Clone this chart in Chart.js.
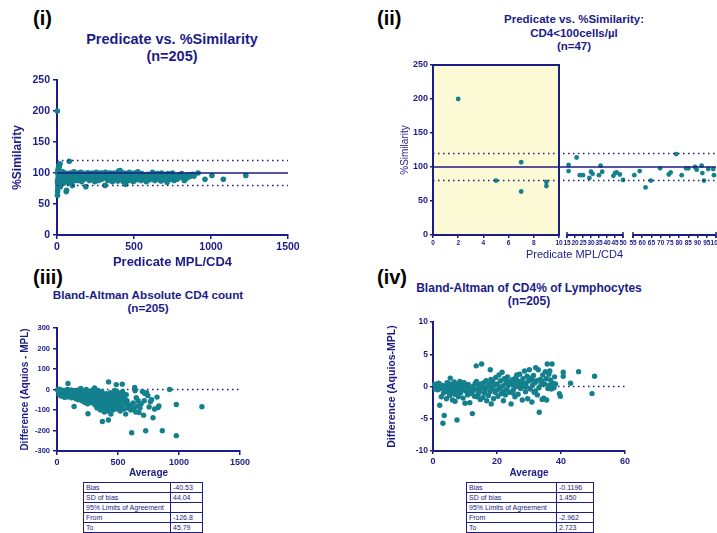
<!DOCTYPE html>
<html><head><meta charset="utf-8">
<script src="https://cdn.jsdelivr.net/npm/chart.js@4/dist/chart.umd.min.js"></script>
<style>
html,body{margin:0;padding:0;background:#fff;}
body{width:717px;height:533px;overflow:hidden;position:relative;font-family:'Liberation Sans',Arial,sans-serif;}
canvas{position:absolute;}
.lbl{position:absolute;font-weight:bold;color:#000;font-size:20px;line-height:20px;white-space:nowrap;}
.ttl{position:absolute;text-align:center;font-weight:bold;color:#1c1c86;white-space:nowrap;width:320px;}
table.st{position:absolute;border-collapse:collapse;font-size:7px;color:#1c1c86;border:1.5px solid #1c1c86;table-layout:fixed;}
table.st td{border:1px solid #1c1c86;height:9px;padding:0 0 0 2px;line-height:9px;white-space:nowrap;overflow:hidden;}
</style></head><body>

<div class="lbl" style="left:33px;top:8px">(i)</div>
<div class="lbl" style="left:377px;top:8px">(ii)</div>
<div class="lbl" style="left:33px;top:267px">(iii)</div>
<div class="lbl" style="left:377px;top:267px">(iv)</div>

<div class="ttl" style="left:12px;top:31px;font-size:14.5px;line-height:17px">Predicate vs. %Similarity<br>(n=205)</div>
<div class="ttl" style="left:414px;top:13px;font-size:11.5px;line-height:13.5px">Predicate vs. %Similarity:<br>CD4&lt;100cells/µl<br>(n=47)</div>
<div class="ttl" style="left:-12px;top:288px;font-size:11.7px;line-height:13px">Bland-Altman Absolute CD4 count<br>(n=205)</div>
<div class="ttl" style="left:369px;top:282px;font-size:12px;line-height:13px">Bland-Altman of CD4% of Lymphocytes<br>(n=205)</div>

<canvas id="c1" width="310" height="200" style="left:0;top:70px"></canvas>
<canvas id="c2" width="347" height="210" style="left:390px;top:55px"></canvas>
<canvas id="c3" width="260" height="165" style="left:0;top:315px"></canvas>
<canvas id="c4" width="265" height="170" style="left:380px;top:310px"></canvas>

<table class="st" id="t3" style="left:83px;top:482px;width:119px"></table>
<table class="st" id="t4" style="left:466px;top:482px;width:127px"></table>

<script>
// ---------------- DATA ----------------
// (i) Predicate MPL/CD4 vs %Similarity, all samples
const allSimilarity = [
[2,200],[3,64],[4,70],[5,75],[6,80],[3,85],[5,90],[8,95],[4,100],[6,104],[9,108],[12,112],[20,115],[15,110],[10,98],[12,92],[15,88],[18,82],[22,78],[25,86],[28,94],[30,100],[35,96],[40,90],[45,84],[50,92],[55,98],[60,70],[62,72],[70,88],[75,95],[80,119],[85,100],[90,92],[95,86],[100,80],
[105,96],[110,102],[115,90],[120,94],[125,98],[130,88],[140,100],[145,92],[150,96],[160,86],[165,100],[170,94],[175,90],[180,98],[187,78],[190,95],[200,92],[205,100],[210,88],[220,96],[225,90],[230,100],[240,94],[245,86],[250,98],[260,92],[265,96],[270,88],[280,100],[285,94],[290,90],[300,97],[305,92],[312,80],[315,101],[320,95],[330,88],[335,99],[340,93],[350,90],[355,97],[360,86],[370,100],[375,94],[380,90],[385,98],[390,92],[395,87],[400,103],[405,96],[410,104],[415,90],[420,98],[425,93],[430,86],[435,100],[440,95],[446,82],[450,99],[455,91],[460,97],[465,88],[470,101],[475,94],[480,90],[485,98],[490,92],[495,86],[500,96],[505,100],[510,93],[515,89],[520,97],[525,102],[530,91],[540,95],[545,88],[550,99],[555,94],[560,90],[570,97],[575,92],[580,86],[590,98],[595,93],[600,89],[610,96],[615,91],[620,101],[630,94],[635,88],[640,97],[650,92],[655,99],[660,90],[670,95],[675,87],[680,100],[690,93],[695,89],[700,97],[710,92],[715,85],[720,99],[730,94],[735,90],[740,96],[750,100],[755,92],[760,88],[770,95],[780,90],[790,97],[800,93],[810,99],[820,92],[827,88],[830,95],[840,91],[850,97],[860,94],[870,96],[880,98],[890,95],[916,100],[961,90],[1006,96],[1080,90],[1226,96],
[8,82],[10,105],[14,96],[16,100],[24,92],[32,88],[38,102],[42,96],[48,100],[52,86],[58,94],[65,99],[68,92],[78,84],[88,97],[98,100],[108,88],[118,100],[128,92],[135,96],[155,101],[185,92],[195,100],[215,97],[235,91],[255,101],[275,93],[295,100],[325,92],[345,100],[365,94],[400,92],[430,96],[460,93],[490,99],[520,91],[550,96],[590,91],[630,99],[660,96],[700,91]
];
const similarityRefLines = [100, 80, 120]; // bias line, lower and upper limits
const simXTicks = [0, 500, 1000, 1500];
const simYTicks = [0, 50, 100, 150, 200, 250];

// (ii) CD4 < 100 cells/µl subset
const lowCD4Similarity = [
[2,200],[5,80],[7,107],[7,64],[9,78],[9,72],
[16,103],[16,94],[21,114],[23,88],[25,88],[29,84],[30,93],[31,90],[35,88],[36,102],[37,93],[44,87],[45,91],[46,92],[48,89],[50,81],
[55.7,88],[58.6,94],[61.8,70],[64.7,80],[69.7,98],[74.4,89],[75.4,92],[78.4,119],[81.4,88],[83.8,98],[85,98],[88.6,100],[89.5,96],[92.2,102],[92.6,91],[93.5,80],[95.8,97],[98.5,97],[98.9,88]
];
const lowCD4Segments = [[0,10],[15,50],[55,100]];
const lowCD4Highlight = [0, 10];
const lowCD4XTicks = [0,2,4,6,8,10,15,20,25,30,35,40,45,50,55,60,65,70,75,80,85,90,95,100];
const lowCD4YTicks = [0, 50, 100, 150, 200, 250];

// (iii) Bland-Altman absolute CD4 count
const baAbsolute = [
[10,2],[15,-3],[20,0],[25,-8],[30,-2],[35,-15],[40,-5],[45,-20],[50,-10],[55,-30],[60,-38],[65,-18],[70,-5],[75,-25],[80,-12],[85,0],[90,29],[95,-35],[100,-22],
[105,-8],[110,-30],[115,-2],[120,-40],[125,-15],[130,-25],[135,-5],[140,-83],[145,-35],[150,-18],[155,-45],[160,-10],[165,-28],[170,-3],[175,-50],[180,-20],[185,-38],[190,-12],[195,5],[200,-30],
[205,-55],[210,-25],[215,-40],[220,-8],[225,-62],[230,-18],[235,-35],[240,0],[245,-48],[250,-70],[254,-118],[258,-30],[262,-10],[266,-55],[270,-40],[275,-22],[280,-65],[285,-5],[290,-45],[295,-30],[300,-58],
[305,-15],[308,8],[312,-75],[316,-40],[320,-60],[324,-25],[328,-90],[332,-50],[336,-5],[340,-35],[344,-80],[348,-65],[352,-20],[356,-100],[360,-45],[364,-70],[368,-10],[372,-156],[376,-55],[380,-85],[384,-30],[388,-110],[392,-60],[396,-40],[400,-95],
[404,-20],[408,-75],[412,-50],[416,-105],[421,-149],[423,37],[426,-65],[430,-35],[434,-90],[438,-15],[442,-120],[446,-55],[450,-80],[454,-40],[458,-100],[462,-25],[466,-60],[470,-85],[474,-5],[478,-45],[482,-70],[486,24],[490,-95],[494,-30],[498,-55],
[502,-15],[506,-80],[510,-40],[514,-65],[518,-105],[522,-20],[526,-50],[530,-85],[535,26],[538,-10],[542,-60],[546,-30],[550,-95],[555,-45],[560,-70],[563,-120],[568,-25],[575,-55],[585,-90],[595,-75],
[605,-100],[612,-211],[618,-85],[625,-65],[632,-95],[637,10],[640,-6],[645,-110],[650,-40],[660,-80],[665,-55],[672,-112],[680,-90],[690,-70],[700,-10],[710,-125],[715,-55],[720,-20],[727,-201],[735,-15],[745,-30],[755,-85],[765,-60],[775,-50],[787,-138],[800,-95],[820,-37],[828,-88],[835,-80],[863,-201],[923,0],[978,-73],[978,-225],[1188,-84],
[5,-2],[12,-10],[18,-25],[28,-15],[33,-32],[42,-28],[48,-5],[58,-12],[68,-30],[78,-36],[88,-15],[98,-8],[108,-18],[118,-26],[128,-10],[138,-38],[148,-22],[158,-5],[168,-42],[178,-30],[188,-25],[198,-15],[215,-20],[235,-12],[255,-35],[275,-50],[295,-20],[315,-30],[335,-45],[355,-60],[375,-25],[395,-75],[415,-45],[435,-70],[455,-60],[475,-30]
];
const baAbsXTicks = [0, 500, 1000, 1500];
const baAbsYTicks = [-300, -200, -100, 0, 100, 200, 300];
const baAbsTable = [['Bias','-40.53'],['SD of bias','44.04'],['95% Limits of Agreement',''],['From','-126.8'],['To','45.79']];

// (iv) Bland-Altman CD4% of lymphocytes
const baPercent = [
[0.5,0.3],[1,-0.2],[1.2,0.4],[1.5,-0.5],[2,0],[2.1,-2.9],[2.3,-0.3],[2.6,-1.6],[2.8,0.2],[3.1,-5.7],[3.3,-1],[3.5,-4.5],[3.7,-0.6],[4,0.1],[4.2,-1.9],[4.5,-0.8],[4.8,0.5],[5,-0.2],[5.2,-1.4],[5.4,1.3],[5.6,-0.9],[5.9,0.3],[6.1,-2.1],[6.3,-0.4],[6.6,0.7],[6.8,-1.2],[7,0],[7.2,-0.6],[7.5,-5.2],[7.7,0.4],[7.9,-1.6],[8.2,-0.3],[8.4,0.8],[8.6,-1],[8.9,-0.5],[9.2,0.2],[9.4,-1.8],[9.7,0.6],[10,-2.6],[10.2,-0.7],[10.5,-0.1],
[10.8,-1.3],[11,0.3],[11.3,-0.9],[11.6,-0.3],[12,-1.1],[12.3,-4.2],[12.5,0],[12.8,-0.6],[13,-1.5],[13.2,0.5],[13.5,3.2],[13.6,0.8],[13.9,-0.4],[14.1,-1.2],[14.3,0.1],[14.6,-0.8],[14.8,-2],[15,0.4],[15.2,3.5],[15.3,-0.2],[15.6,-1.7],[15.9,0.6],[16.1,-1],[16.3,-0.5],[16.6,0.9],[16.8,-2.2],[17,-0.1],[17.3,-1.4],[17.5,0.3],[17.8,-0.8],[17.9,2.6],[18.1,1.1],[18.2,-2.7],[18.4,-0.3],[18.7,0.7],[18.9,-1.9],[19.1,0.2],[19.4,-0.9],[19.6,1.4],[19.8,-0.6],
[20.1,0.4],[20.3,-1.5],[20.6,1.8],[20.8,-0.2],[21.1,0.9],[21.3,-1.1],[21.6,2.2],[21.8,0.1],[22.1,-0.7],[22.3,1.2],[22.6,-1.3],[22.8,0.5],[23.1,-0.4],[23.3,1.5],[23.6,0.2],[23.8,-0.9],[24.1,0.8],[24.4,-2.7],[24.6,0.3],[24.9,1.1],[25.1,-0.5],[25.4,0.6],[25.6,-1.6],[25.9,1.4],[26.1,0],[26.4,0.9],[26.6,-1.2],[26.9,0.4],[27.1,1.9],[27.4,-0.3],[27.6,0.7],[27.9,-2.1],[28.1,1.2],[28.4,0.1],[28.6,2.4],[28.9,-0.8],[29.1,0.5],[29.4,1.6],[29.6,-1.9],[29.9,0.9],
[30.1,2.6],[30.4,-0.4],[30.6,1.3],[30.9,-2.4],[31.1,0.2],[31.4,1.7],[31.6,-0.9],[31.9,0.6],[32.1,2.9],[32.4,0.9],[32.6,-1.3],[32.9,2.6],[33.1,-0.2],[33.2,-4],[33.5,1.1],[33.8,0.3],[34.1,-2],[34.3,1.8],[34.6,-1.8],[34.9,0.4],[35.1,2.3],[35.4,1.2],[35.7,3.5],[35.9,-0.3],[36.2,1.9],[36.4,0.2],[36.7,1],[37,-0.4],[37.2,3.5],[37.5,0.5],[37.8,-0.2],[38,1.5],[39.5,-1.1],[39.8,-1.5],[40.7,2.2],[40.7,1.6],[43,0.5],[45.5,2.3],[49.7,-1.1],[50.5,1.6],
[0.8,-0.4],[1.8,0.5],[2.5,-0.1],[3.9,-0.3],[4.4,0.6],[6,-1],[6.9,-2.3],[8,-0.9],[9,0],[11.5,-2.5],[13.8,-1.6],[16,-0.2],[18.5,0.5],[20.5,-0.4],[22,-2.2],[23,0.8],[25,-1],[26.2,1.8],[27.8,0.3],[29,-0.1],[31,1],[32,-0.7],[34,0.9],[35.5,-2.1],[36.5,2.4],[38.3,0.4]
];
const baPctXTicks = [0, 20, 40, 60];
const baPctYTicks = [-10, -5, 0, 5, 10];
const baPctTable = [['Bias','-0.1196'],['SD of bias','1.450'],['95% Limits of Agreement',''],['From','-2.962'],['To','2.723']];

// ---------------- STYLE ----------------
const NAVY = '#1c1c86', TEAL = '#14808e', YELLOW = '#fdfbd6';
const FONT = "'Liberation Sans', Arial, sans-serif";
const segmentSpan = [[0, 0.4452], [0.4735, 0.6714], [0.7067, 1]];

// segmented (broken) linear axis for panel (ii)
class SegmentedScale extends Chart.LinearScale {
  getPixelForValue(value) {
    if (value === null || value === undefined) return NaN;
    let i = lowCD4Segments.findIndex(s => value <= s[1]);
    if (i < 0) i = lowCD4Segments.length - 1;
    const [a, b] = lowCD4Segments[i], [f0, f1] = segmentSpan[i];
    const t = (value - a) / (b - a);
    return this.left + (f0 + t * (f1 - f0)) * this.width;
  }
  getValueForPixel(pixel) {
    const f = (pixel - this.left) / this.width;
    for (let i = 0; i < segmentSpan.length; i++) {
      const [f0, f1] = segmentSpan[i], [a, b] = lowCD4Segments[i];
      if (f <= f1 || i === segmentSpan.length - 1) return a + (f - f0) / (f1 - f0) * (b - a);
    }
  }
}
SegmentedScale.id = 'segmented';
SegmentedScale.defaults = Chart.LinearScale.defaults;
Chart.register(SegmentedScale);

function mkAxis(o) {
  return {
    type: o.type || 'linear',
    min: o.ticks[0], max: o.ticks[o.ticks.length - 1],
    afterBuildTicks: ax => { ax.ticks = o.ticks.map(v => ({ value: v })); },
    afterFit: ax => { if (o.isX) ax.height = o.size; else ax.width = o.size; },
    grid: { display: true, drawOnChartArea: false, drawTicks: true, tickLength: o.tickLen, color: NAVY, lineWidth: 1.5 },
    border: { display: o.border !== false, color: NAVY, width: 2 },
    ticks: { color: NAVY, font: { family: FONT, size: o.fs, weight: 'bold' }, padding: o.lp,
             autoSkip: false, maxRotation: 0, minRotation: 0, callback: v => String(v) },
    title: { display: true, text: o.title, color: NAVY,
             font: { family: FONT, size: o.tfs, weight: o.tw || 'bold' },
             padding: o.isX ? { top: 0, bottom: o.tp } : { top: o.tp, bottom: 0 } }
  };
}
function pts(arr) { return arr.map(([x, y]) => ({ x, y })); }
function hline(v, x0, x1, dotted, width) {
  return { type: 'line', data: [{ x: x0, y: v }, { x: x1, y: v }], borderColor: NAVY,
           borderWidth: width || 1.5, borderDash: dotted ? [1.5, 3.5] : [], pointRadius: 0, fill: false, clip: false };
}
function scatterDs(arr, r) {
  return { type: 'scatter', data: pts(arr), backgroundColor: TEAL, borderColor: TEAL,
           borderWidth: 0, pointRadius: r, clip: false };
}
function baseOpts(pad, scales) {
  return { responsive: false, animation: false, devicePixelRatio: 1, events: [],
           layout: { padding: pad },
           plugins: { legend: { display: false }, tooltip: { enabled: false } },
           scales };
}

// (i)
new Chart(document.getElementById('c1'), {
  type: 'scatter',
  data: { datasets: [
    hline(similarityRefLines[0], simXTicks[0], simXTicks[simXTicks.length - 1], false),
    hline(similarityRefLines[1], simXTicks[0], simXTicks[simXTicks.length - 1], true),
    hline(similarityRefLines[2], simXTicks[0], simXTicks[simXTicks.length - 1], true),
    scatterDs(allSimilarity, 2.8)
  ] },
  options: baseOpts({ left: 0, top: 10, right: 22, bottom: 0 }, {
    x: mkAxis({ ticks: simXTicks, isX: true, size: 35, tickLen: 4, fs: 10.5, lp: 2, title: 'Predicate MPL/CD4', tfs: 13, tp: 0 }),
    y: mkAxis({ ticks: simYTicks, size: 57, tickLen: 4, fs: 10.5, lp: 3, title: '%Similarity', tfs: 12, tp: 10 })
  })
});

// (ii)
const segAxisPlugin = {
  id: 'segAxis',
  beforeDatasetsDraw(chart) {
    const { ctx, scales: { x, y } } = chart;
    const x0 = x.getPixelForValue(lowCD4Highlight[0]), x1 = x.getPixelForValue(lowCD4Highlight[1]);
    const y0 = y.getPixelForValue(y.max), y1 = y.getPixelForValue(y.min);
    ctx.save();
    ctx.fillStyle = YELLOW; ctx.fillRect(x0, y0, x1 - x0, y1 - y0);
    ctx.strokeStyle = NAVY; ctx.lineWidth = 2; ctx.strokeRect(x0, y0, x1 - x0, y1 - y0);
    ctx.restore();
  },
  afterDraw(chart) {
    const { ctx, scales: { x }, chartArea } = chart;
    const yb = chartArea.bottom;
    ctx.save(); ctx.strokeStyle = NAVY; ctx.lineWidth = 2;
    lowCD4Segments.forEach(([a, b], i) => {
      const p0 = x.getPixelForValue(a), p1 = x.getPixelForValue(b);
      ctx.beginPath(); ctx.moveTo(p0, yb); ctx.lineTo(p1, yb); ctx.stroke();
      if (i > 0) {
        ctx.lineWidth = 1.5;
        [p0, p1].forEach(p => { ctx.beginPath(); ctx.moveTo(p, yb - 3); ctx.lineTo(p, yb + 3); ctx.stroke(); });
        ctx.lineWidth = 2;
      }
    });
    ctx.restore();
  }
};
const xLo = lowCD4XTicks[0], xHi = lowCD4XTicks[lowCD4XTicks.length - 1];
new Chart(document.getElementById('c2'), {
  type: 'scatter',
  data: { datasets: [
    hline(similarityRefLines[0], xLo, xHi, false),
    hline(similarityRefLines[1], xLo, xHi, true),
    hline(similarityRefLines[2], xLo, xHi, true),
    scatterDs(lowCD4Similarity, 2.4)
  ] },
  options: baseOpts({ left: 0, top: 10, right: 21, bottom: 0 }, {
    x: Object.assign(mkAxis({ type: 'segmented', ticks: lowCD4XTicks, isX: true, size: 30, tickLen: 3, fs: 6.5, lp: 1, border: false,
                              title: 'Predicate MPL/CD4', tfs: 11, tw: 'normal', tp: 3 }), {}),
    y: mkAxis({ ticks: lowCD4YTicks, size: 43, tickLen: 3, fs: 9, lp: 2, title: '%Similarity', tfs: 10, tw: 'normal', tp: 9 })
  }),
  plugins: [segAxisPlugin]
});

// (iii)
new Chart(document.getElementById('c3'), {
  type: 'scatter',
  data: { datasets: [
    scatterDs(baAbsolute, 2.7),
    hline(0, baAbsXTicks[0], baAbsXTicks[baAbsXTicks.length - 1], true)
  ] },
  options: baseOpts({ left: 0, top: 13, right: 20, bottom: 0 }, {
    x: mkAxis({ ticks: baAbsXTicks, isX: true, size: 29, tickLen: 4, fs: 9, lp: 2, title: 'Average', tfs: 10, tp: 1 }),
    y: mkAxis({ ticks: baAbsYTicks, size: 57, tickLen: 4, fs: 7.5, lp: 3, title: 'Difference (Aquios - MPL)', tfs: 10, tp: 19 })
  })
});

// (iv)
new Chart(document.getElementById('c4'), {
  type: 'scatter',
  data: { datasets: [
    scatterDs(baPercent, 2.7),
    hline(0, baPctXTicks[0], baPctXTicks[baPctXTicks.length - 1], true)
  ] },
  options: baseOpts({ left: 0, top: 12, right: 20, bottom: 0 }, {
    x: mkAxis({ ticks: baPctXTicks, isX: true, size: 29, tickLen: 3, fs: 9, lp: 2, title: 'Average', tfs: 10, tp: 1 }),
    y: mkAxis({ ticks: baPctYTicks, size: 53, tickLen: 3, fs: 8.5, lp: 2, title: 'Difference (Aquios-MPL)', tfs: 10.5, tp: 6 })
  })
});

// tables
function fillTable(id, rows, w1, w2) {
  const t = document.getElementById(id);
  t.innerHTML = '<colgroup><col style="width:' + w1 + 'px"><col style="width:' + w2 + 'px"></colgroup>' +
    rows.map(r => '<tr><td>' + r[0] + '</td><td>' + r[1] + '</td></tr>').join('');
}
fillTable('t3', baAbsTable, 87, 32);
fillTable('t4', baPctTable, 90, 37);
</script>
</body></html>
